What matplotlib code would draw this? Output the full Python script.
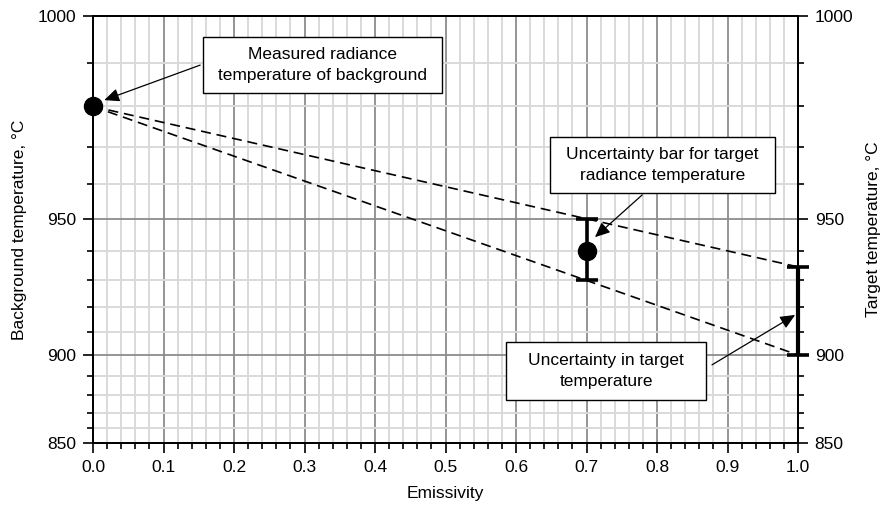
import numpy as np
import matplotlib
matplotlib.use("Agg")
import matplotlib.pyplot as plt
from matplotlib.patches import Rectangle

plt.rcParams['font.family'] = ['Liberation Sans', 'DejaVu Sans']

# data (deg C)
bg_eps = 0.0
bg_temp = 980
bar_eps = 0.7
bar_temp = 940
bar_err = 10
target_eps = 1.0
target_hi = 934.6
target_lo = 900
line_hi = [bg_temp, target_hi]
line_lo = [bg_temp, target_lo]
line_eps = [bg_eps, target_eps]

yticks = [850, 900, 950, 1000]
yminor = np.arange(850, 1001, 10)
xticks = np.arange(0, 1.01, 0.1)
xminor = np.arange(0, 1.001, 0.02)

C2 = 14388.0  # um K, radiance scale at 1 um


def fwd(t):
    t = np.asarray(t, dtype=float)
    return 1e5 * np.exp(-C2 / (t + 273.15))


def inv(f):
    f = np.clip(np.asarray(f, dtype=float), 1e-12, None)
    return C2 / (-np.log(f / 1e5)) - 273.15


FS = 12.5

fig = plt.figure(figsize=(8.88, 5.13), dpi=100)
ax = fig.add_axes([93 / 888, 1 - 443 / 513, 705 / 888, 427 / 513])
ax.set_yscale('function', functions=(fwd, inv))
ax.set_xlim(0, 1)
ax.set_ylim(850, 1000)

ax.set_xticks(xticks)
ax.set_xticks(xminor, minor=True)
ax.set_xticklabels([f"{v:.1f}" for v in xticks])
ax.set_yticks(yticks)
ax.set_yticks(yminor, minor=True)
ax.set_yticklabels([str(v) for v in yticks])

ax.grid(which='minor', color='#d9d9d9', lw=1.4, zorder=0)
ax.grid(which='major', color='#8c8c8c', lw=1.3, zorder=0)
ax.set_axisbelow(True)
ax.tick_params(which='major', direction='out', length=7, width=1.2, labelsize=FS, pad=5)
ax.tick_params(which='minor', direction='out', length=4, width=1.2)
for s in ax.spines.values():
    s.set_linewidth(1.3)

# dashed lines
ax.plot(line_eps, line_hi, color='k', lw=1.2, ls=(0, (6, 3.5)), zorder=3)
ax.plot(line_eps, line_lo, color='k', lw=1.2, ls=(0, (6, 3.5)), zorder=3)

# background point
ax.plot([bg_eps], [bg_temp], 'o', color='k', ms=13, clip_on=False, zorder=5)

# uncertainty bar at 0.7
ax.errorbar([bar_eps], [bar_temp], yerr=[[bar_err], [bar_err]], fmt='o', color='k',
            ms=13, elinewidth=2.6, capsize=8, capthick=2.6, zorder=5)

# target uncertainty at 1.0
ax.errorbar([target_eps], [(target_hi + target_lo) / 2],
            yerr=[[(target_hi - target_lo) / 2], [(target_hi - target_lo) / 2]],
            fmt='none', ecolor='k', elinewidth=3, capsize=8, capthick=2.6,
            clip_on=False, zorder=6)

ax.set_xlabel("Emissivity", fontsize=FS, labelpad=8)
ax.set_ylabel("Background temperature, \u00b0C", fontsize=FS, labelpad=8)

ax2 = ax.twinx()
ax2.set_yscale('function', functions=(fwd, inv))
ax2.set_ylim(850, 1000)
ax2.set_yticks(yticks)
ax2.set_yticks(yminor, minor=True)
ax2.set_yticklabels([str(v) for v in yticks])
ax2.tick_params(which='major', direction='out', length=7, width=1.2, labelsize=FS, pad=5)
ax2.tick_params(which='minor', direction='out', length=4, width=1.2)
ax2.set_ylabel("Target temperature, \u00b0C", fontsize=FS, labelpad=9)
for s in ax2.spines.values():
    s.set_linewidth(1.3)

# annotation boxes (axes fraction)
boxes = [
    ((0.156, 0.820), 0.339, 0.131, "Measured radiance\ntemperature of background"),
    ((0.648, 0.586), 0.319, 0.131, "Uncertainty bar for target\nradiance temperature"),
    ((0.586, 0.101), 0.284, 0.136, "Uncertainty in target\ntemperature"),
]
for (x0, y0), w, h, txt in boxes:
    ax2.add_patch(Rectangle((x0, y0), w, h, transform=ax.transAxes, facecolor='white',
                            edgecolor='k', lw=1.0, zorder=10))
    ax2.text(x0 + w / 2, y0 + h / 2, txt, transform=ax.transAxes, ha='center', va='center',
             fontsize=FS, linespacing=1.55, zorder=11)

arrows = [
    ((0.152, 0.885), (0.016, 0.803)),
    ((0.779, 0.581), (0.712, 0.482)),
    ((0.878, 0.183), (0.996, 0.300)),
]
for start, tip in arrows:
    ax2.annotate('', xy=tip, xytext=start, xycoords=ax.transAxes, textcoords=ax.transAxes,
                 arrowprops=dict(arrowstyle='-|>,head_length=0.9,head_width=0.4',
                                 color='k', lw=0.9, shrinkA=0, shrinkB=0), zorder=12)

fig.savefig("out.png", dpi=100)
